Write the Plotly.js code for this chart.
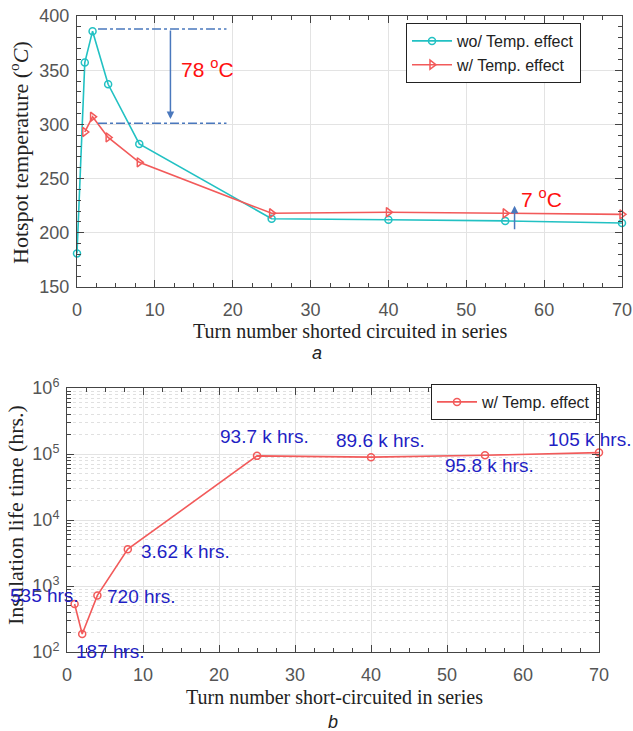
<!DOCTYPE html>
<html>
<head>
<meta charset="utf-8">
<script src="https://cdn.plot.ly/plotly-3.0.1.min.js"></script>
<style>html,body{margin:0;padding:0;background:#fff;}#chart{width:633px;height:731px;}</style>
</head>
<body>
<div id="chart"></div>
<script>
// ---- Data (a) hotspot temperature ----
const turnsWo = [0, 1, 2, 4, 8, 25, 40, 55, 70];
const tempWo = [181, 357, 386, 337, 282, 213, 212, 211, 209];
const turnsW = [1, 2, 4, 8, 25, 40, 55, 70];
const tempW = [293, 307, 288, 265, 218, 219, 218, 217];
// ---- Data (b) insulation life time ----
const turnsLife = [1, 2, 4, 8, 25, 40, 55, 70];
const lifeHrs = [535, 187, 720, 3620, 93700, 89600, 95800, 105000];
const lifeLabels = ["535 hrs.", "187 hrs.", "720 hrs.", "3.62 k hrs.", "93.7 k hrs.", "89.6 k hrs.", "95.8 k hrs.", "105 k hrs."];
// ---- Annotation values ----
const peakWo = 388, peakW = 301, farWo = 202, farW = 225;
const diffLabels = ["78 <sup>o</sup>C", "7 <sup>o</sup>C"];
const logTickVals = [1e2, 1e3, 1e4, 1e5, 1e6];
const logTickText = ["10<sup>2</sup>", "10<sup>3</sup>", "10<sup>4</sup>", "10<sup>5</sup>", "10<sup>6</sup>"];

const W = 633, H = 731;
const cyan = '#22c1c3', red = '#f25a5a', blue = '#4a78bd', lblBlue = '#1f1fc4';
const sans = 'Liberation Sans, Arial, sans-serif';
const tickFont = {family: sans, size: 18, color: '#555'};
const serif = 'Liberation Serif, DejaVu Serif, serif';

function py(p) { return 1 - p / H; }
function px(p) { return p / W; }

const traces = [
  {x: turnsWo, y: tempWo, mode: 'lines+markers', name: 'wo/ Temp. effect', cliponaxis: false,
   line: {color: cyan, width: 1.6}, marker: {symbol: 'circle-open', size: 7, color: cyan, line: {width: 1.5}},
   xaxis: 'x', yaxis: 'y', legend: 'legend'},
  {x: turnsW, y: tempW, mode: 'lines+markers', name: 'w/ Temp. effect', cliponaxis: false,
   line: {color: red, width: 1.6}, marker: {symbol: 'triangle-right-open', size: 8, color: red, line: {width: 1.5}},
   xaxis: 'x', yaxis: 'y', legend: 'legend'},
  {x: turnsLife, y: lifeHrs, mode: 'lines+markers', name: 'w/ Temp. effect', cliponaxis: false,
   line: {color: red, width: 1.6}, marker: {symbol: 'circle-open', size: 7, color: red, line: {width: 1.5}},
   xaxis: 'x2', yaxis: 'y2', legend: 'legend2'}
];

const axCommon = {
  showline: true, linecolor: '#444', linewidth: 1, mirror: 'ticks', ticks: 'inside', ticklen: 7,
  tickcolor: '#444', tickfont: tickFont, showgrid: true, gridcolor: '#e3e3e3', zeroline: false
};

// label offsets (px) for life labels
const lblShift = [[-30, 8], [28, -17], [44, -1], [58, -2], [7, 19], [9, 17], [4, -10], [-10, 13]];

const titleFont = {family: serif, color: '#222'};
const ctr = {xanchor: 'center', yanchor: 'middle', xref: 'paper', yref: 'paper', showarrow: false};
const annotations = [
  {x: 16.7, y: 352, xref: 'x', yref: 'y', text: diffLabels[0], showarrow: false,
   font: {family: sans, size: 21, color: '#ff1010'}},
  {x: 12, y: peakW + 4, xref: 'x', yref: 'y', ax: 12, ay: peakWo, axref: 'x', ayref: 'y',
   showarrow: true, arrowhead: 2, arrowsize: 1, arrowwidth: 1.5, arrowcolor: blue, text: ''},
  {x: 59.6, y: 232, xref: 'x', yref: 'y', text: diffLabels[1], showarrow: false,
   font: {family: sans, size: 21, color: '#ff1010'}},
  {x: 56.2, y: farW, xref: 'x', yref: 'y', ax: 56.2, ay: farWo, axref: 'x', ayref: 'y',
   showarrow: true, arrowhead: 2, arrowsize: 1, arrowwidth: 1.5, arrowcolor: blue, text: ''},
  // axis titles
  Object.assign({x: px(19), y: py(153), textangle: -90,
   text: 'Hotspot temperature (<sup>o</sup><i>C</i>)', font: Object.assign({size: 22}, titleFont)}, ctr),
  Object.assign({x: px(350), y: py(331),
   text: 'Turn number shorted circuited in series', font: Object.assign({size: 20}, titleFont)}, ctr),
  Object.assign({x: px(15), y: py(515), textangle: -90,
   text: 'Insulation life time (hrs.)', font: Object.assign({size: 22}, titleFont)}, ctr),
  Object.assign({x: px(334), y: py(697),
   text: 'Turn number short-circuited in series', font: Object.assign({size: 20}, titleFont)}, ctr),
  // captions
  Object.assign({x: px(317), y: py(353), text: '<i>a</i>', font: {family: sans, size: 18, color: '#222'}}, ctr),
  Object.assign({x: px(333), y: py(722), text: '<i>b</i>', font: {family: sans, size: 18, color: '#222'}}, ctr)
];
turnsLife.forEach((t, i) => {
  annotations.push({x: t, y: Math.log10(lifeHrs[i]), xref: 'x2', yref: 'y2', text: lifeLabels[i],
    showarrow: false, xshift: lblShift[i][0], yshift: lblShift[i][1],
    font: {family: sans, size: 19, color: lblBlue}});
});

const shapes = [
  {type: 'line', xref: 'x', yref: 'y', x0: 2.7, x1: 19.2, y0: peakWo, y1: peakWo, line: {color: blue, width: 1.5, dash: 'dashdot'}},
  {type: 'line', xref: 'x', yref: 'y', x0: 2.7, x1: 19.2, y0: peakW, y1: peakW, line: {color: blue, width: 1.5, dash: 'dashdot'}}
];

const minorTick = {ticks: 'inside', ticklen: 4, tickcolor: '#444', showgrid: false};

const layout = {
  width: W, height: H, margin: {l: 0, r: 0, t: 0, b: 0},
  paper_bgcolor: '#fff', plot_bgcolor: '#fff', showlegend: true,
  xaxis: Object.assign({}, axCommon, {domain: [px(77), px(622)], anchor: 'y', range: [0, 70], dtick: 10,
    ticklabelstandoff: 6, minor: Object.assign({dtick: 2.5}, minorTick)}),
  yaxis: Object.assign({}, axCommon, {domain: [py(287), py(16)], anchor: 'x', range: [150, 400], dtick: 50,
    ticklabelstandoff: 3, minor: Object.assign({dtick: 10}, minorTick)}),
  xaxis2: Object.assign({}, axCommon, {domain: [px(67), px(599)], anchor: 'y2', range: [0, 70], dtick: 10,
    ticklabelstandoff: 6, minor: Object.assign({dtick: 2.5}, minorTick)}),
  yaxis2: Object.assign({}, axCommon, {domain: [py(652), py(388)], anchor: 'x2', type: 'log', range: [2, 6],
    tickvals: logTickVals, ticktext: logTickText, ticklabelstandoff: 3,
    minor: {dtick: 'D1', ticks: 'inside', ticklen: 4, tickcolor: '#444', showgrid: true, gridcolor: '#e0e0e0', griddash: 'dot'}}),
  legend: {x: px(581), y: py(23), xanchor: 'right', yanchor: 'top', bgcolor: '#fff', bordercolor: '#222', borderwidth: 1,
    font: {family: sans, size: 16, color: '#222'}, itemwidth: 40},
  legend2: {x: px(597), y: py(384), xanchor: 'right', yanchor: 'top', bgcolor: '#fff', bordercolor: '#222', borderwidth: 1,
    font: {family: sans, size: 16, color: '#222'}, itemwidth: 40},
  annotations: annotations, shapes: shapes
};

Plotly.newPlot('chart', traces, layout, {displayModeBar: false, staticPlot: true});
</script>
</body>
</html>
